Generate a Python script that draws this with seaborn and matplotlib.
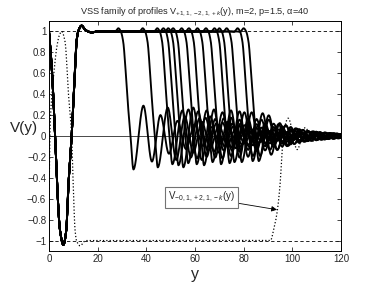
import numpy as np
import pandas as pd
import matplotlib
matplotlib.use('Agg')
import matplotlib.pyplot as plt
import seaborn as sns

# --- data ---
# shared start of every solid profile (y, V)
head_y = [0, 0.7, 1.5, 2.5, 3.4, 4.5, 5.9, 7.1, 7.9, 9.3, 10.4, 11.3, 12.0, 13.4, 14.7, 16, 17.5, 20]
head_v = [1.0, 0.8, 0.5, 0.0, -0.5, -0.9, -1.04, -0.9, -0.5, 0.0, 0.5, 0.9, 1.0, 1.055, 1.02, 1.0, 0.99, 1.0]

# y where each solid profile falls through V=0.9, and its first minimum
drop_y = [30.5, 40.5, 46.5, 49, 51, 53, 56.5, 59.5, 63, 66.5, 70, 72, 75, 79.5, 82]
first_min = [-0.32, -0.30, -0.27, -0.28, -0.30, -0.26, -0.27, -0.28, -0.25, -0.27, -0.26, -0.25, -0.25, -0.24, -0.24]

# shape of the fall, relative to drop_y
drop_r = [-5, -3.5, -2, -1, 0, 1, 2, 3]
drop_v = [1.0, 0.995, 1.03, 1.0, 0.9, 0.62, 0.28, 0.0]

# tail extrema (offset from drop_y, size relative to the first one) of the first profile
tail_r = [4.2, 8.3, 11.8, 15.3, 18.8, 22.3, 25.8, 29.3, 32.8, 36.3, 39.8, 43.3, 46.8,
          50.3, 53.8, 57.3, 60.8, 64.3, 67.8, 71.3, 74.8, 78.3, 81.8, 85.3, 88.8, 92.3]
tail_a = [0.32, 0.29, 0.245, 0.2, 0.17, 0.145, 0.125, 0.11, 0.095, 0.085, 0.075, 0.065, 0.058,
          0.05, 0.045, 0.04, 0.035, 0.03, 0.027, 0.024, 0.021, 0.019, 0.017, 0.015, 0.013, 0.012]

# largest tail amplitude seen at the right end of the plot
env_y = [0, 88, 94, 100, 106, 112, 120, 130]
env_a = [1.0, 0.24, 0.13, 0.08, 0.05, 0.035, 0.02, 0.015]

# dotted profile V_{-0,1,+2,1,-k}
dot_y = [0, 0.4, 1.2, 2.2, 3.2, 4.2, 5.2, 6.6, 8.0, 9.3, 10.0, 10.7, 11.3, 12.8, 15, 90, 91,
         92.3, 93.8, 95.0, 95.8, 96.8, 98.3, 102, 105.3, 108.6, 112, 115.4, 118.8, 120]
dot_v = [-0.6, 0.05, 0.4, 0.65, 0.85, 0.96, 1.0, 0.9, 0.4, 0.0, -0.5, -0.9, -1.0, -1.05, -1.0, -1.0, -1.0,
         -0.9, -0.72, -0.45, -0.15, 0.08, 0.17, -0.13, 0.08, -0.05, 0.03, -0.02, 0.012, 0.005]

xticks = [0, 20, 40, 60, 80, 100, 120]
yticks = [-1, -0.8, -0.6, -0.4, -0.2, 0, 0.2, 0.4, 0.6, 0.8, 1]
ytick_labels = ['\u22121', '\u22120.8', '\u22120.6', '\u22120.4', '\u22120.2', '0', '0.2', '0.4', '0.6', '0.8', '1']


def smooth(xk, yk, xs):
    # monotone cubic through the read points
    xk = np.asarray(xk, float)
    yk = np.asarray(yk, float)
    h = np.diff(xk)
    d = np.diff(yk) / h
    m = np.zeros_like(yk)
    m[0], m[-1] = d[0], d[-1]
    for k in range(1, len(xk) - 1):
        if d[k - 1] * d[k] > 0:
            w1 = 2 * h[k] + h[k - 1]
            w2 = h[k] + 2 * h[k - 1]
            m[k] = (w1 + w2) / (w1 / d[k - 1] + w2 / d[k])
    i = np.clip(np.searchsorted(xk, xs) - 1, 0, len(h) - 1)
    t = (xs - xk[i]) / h[i]
    h00 = 2 * t**3 - 3 * t**2 + 1
    h10 = t**3 - 2 * t**2 + t
    h01 = -2 * t**3 + 3 * t**2
    h11 = t**3 - t**2
    return h00 * yk[i] + h10 * h[i] * m[i] + h01 * yk[i + 1] + h11 * h[i] * m[i + 1]


rows = []
for n, (yd, fm) in enumerate(zip(drop_y, first_min)):
    ky = list(head_y) + [yd + r for r in drop_r]
    kv = list(head_v) + list(drop_v)
    sign = -1
    for r, a in zip(tail_r, tail_a):
        pos = yd + r
        amp = min(abs(fm) * a / tail_a[0], np.interp(pos, env_y, env_a))
        ky.append(pos)
        kv.append(sign * amp)
        sign = -sign
        if pos > 122:
            break
    xs = np.linspace(0, ky[-1], 1500)
    vs = smooth(ky, kv, xs)
    rows.append(pd.DataFrame({'y': xs, 'V': vs, 'curve': n}))
solid = pd.concat(rows, ignore_index=True)

xd = np.linspace(0, 120, 1500)
dotted = pd.DataFrame({'y': xd, 'V': smooth(dot_y, dot_v, xd)})

# --- plot ---
sns.set_style('ticks')
plt.rcParams['font.family'] = ['Liberation Sans', 'DejaVu Sans']
plt.rcParams['mathtext.fontset'] = 'custom'
plt.rcParams['mathtext.rm'] = 'Liberation Sans'
plt.rcParams['mathtext.it'] = 'Liberation Sans:italic'

fig = plt.figure(figsize=(3.77, 2.83), dpi=100)
ax = fig.add_axes([0.13, 0.113, 0.7745, 0.813])

ax.axhline(0, color='black', lw=0.5, zorder=1)
ax.axhline(1, color='black', lw=0.6, dashes=(4, 3), zorder=1)
ax.axhline(-1, color='black', lw=0.6, dashes=(4, 3), zorder=1)

sns.lineplot(data=solid, x='y', y='V', units='curve', estimator=None, color='black',
             lw=1.35, sort=False, ax=ax, zorder=3)
sns.lineplot(data=dotted, x='y', y='V', color='black', lw=0.9, ls=':', sort=False, ax=ax, zorder=2)

ax.set_xlim(0, 120)
ax.set_ylim(-1.1, 1.1)
ax.set_xticks(xticks)
ax.set_yticks(yticks)
ax.set_yticklabels(ytick_labels)
ax.tick_params(direction='in', top=True, right=True, length=3, width=0.6, labelsize=7, pad=2)
for s in ax.spines.values():
    s.set_linewidth(0.7)
    s.set_color('black')

ax.set_title(r'VSS family of profiles $\mathrm{V}_{+1,1,-2,1,+k}$(y), m=2, p=1.5, α=40',
             fontsize=6.6, pad=5)
ax.set_xlabel('y', fontsize=11.5, va='top')
ax.set_ylabel('V(y)', fontsize=11, rotation=0, ha='center', va='center')
ax.yaxis.set_label_coords(-0.084, 0.533)
ax.xaxis.set_label_coords(0.5, -0.068)

ax.annotate(r'$\mathrm{V}_{-0,1,+2,1,-k}$(y)', xy=(93.7, -0.705), xytext=(62.7, -0.585),
            fontsize=7, ha='center', va='center',
            bbox=dict(boxstyle='square,pad=0.35', fc='white', ec='0.45', lw=0.8),
            arrowprops=dict(arrowstyle='-|>', color='black', lw=0.6, mutation_scale=8,
                            shrinkA=0, shrinkB=0))

fig.savefig('out.png', dpi=100)
